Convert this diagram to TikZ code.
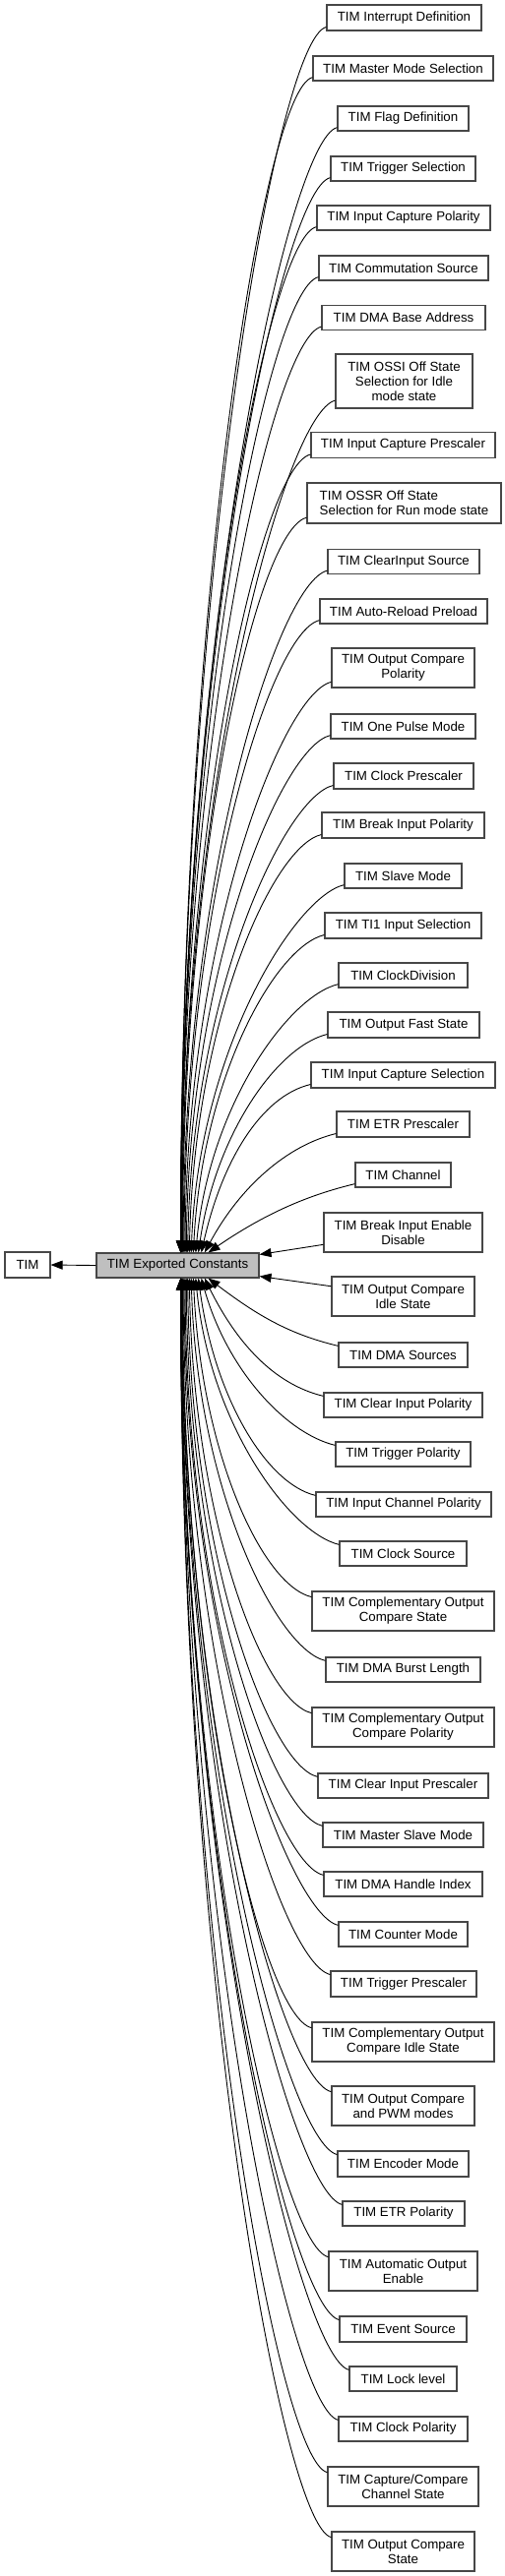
\documentclass[tikz,border=0pt]{standalone}
\usepackage{fontspec}
\setmainfont{Liberation Sans}
\usetikzlibrary{arrows.meta,calc}
\tikzset{
  box/.style={draw=black!72, line width=1.1pt, fill=white, inner sep=0pt, align=center,
    font=\fontsize{13.3}{15}\selectfont, text=black},
  edge/.style={draw=black, line width=0.9pt, -{Triangle[length=12pt,width=9pt]}},
}
\newcommand\upedge[2]{%
 \draw[edge] let \p1=($(#1.north west)!0.85!(#1.south west)$),
   \n2={86+28*((#2)/22)^3},
   \p2=($(ec.north west)+(\n2,0)$),
   \n1={0.6*exp(-(\y1-\y2)/150)} in
   (\p1) .. controls ({\x1-50},{\y1-12}) and ({\x2+\n1*(\x1-\x2)},{\y2+0.55*(\y1-\y2)}) .. (\p2);}
\newcommand\downedge[2]{%
 \draw[edge] let \p1=($(#1.north west)!0.15!(#1.south west)$),
   \n2={86+28*((#2)/22)^3},
   \p2=($(ec.south west)+(\n2,0)$),
   \n1={0.6*exp(-(\y2-\y1)/150)} in
   (\p1) .. controls ({\x1-50},{\y1+12}) and ({\x2+\n1*(\x1-\x2)},{\y2+0.55*(\y1-\y2)}) .. (\p2);}
\begin{document}
\begin{tikzpicture}[x=1pt,y=-1pt]
\useasboundingbox (0,0) rectangle (513,2619);
% main nodes
\node[box, minimum width=46, minimum height=26] (tim) at (28,1286) {TIM};
\node[box, fill=black!25, minimum width=165, minimum height=25] (ec) at (180.5,1286.5) {TIM Exported Constants};
% upper nodes
\node[box, minimum width=157, minimum height=26] (ind) at (410.5,18) {TIM Interrupt Definition};
\node[box, minimum width=183, minimum height=25] (mms) at (409.5,69.5) {TIM Master Mode Selection};
\node[box, minimum width=133, minimum height=25] (fd) at (409.5,120.5) {TIM Flag Definition};
\node[box, minimum width=147, minimum height=25] (ts) at (409.5,171.5) {TIM Trigger Selection};
\node[box, minimum width=176, minimum height=25] (icp) at (410,221.5) {TIM Input Capture Polarity};
\node[box, minimum width=172, minimum height=25] (cs) at (410,272.5) {TIM Commutation Source};
\node[box, minimum width=166, minimum height=25] (dba) at (410,323) {TIM DMA Base Address};
\node[box, minimum width=139, minimum height=55] (ossi) at (410.5,387.5) {TIM OSSI Off State\\Selection for Idle\\mode state};
\node[box, minimum width=187, minimum height=26] (icps) at (409.5,452.5) {TIM Input Capture Prescaler};
\node[box, align=left, minimum width=197, minimum height=41] (ossr) at (410.5,511.5) {TIM OSSR Off State\\ Selection for Run mode state};
\node[box, minimum width=154, minimum height=25] (cis) at (410,571) {TIM ClearInput Source};
\node[box, minimum width=170, minimum height=25] (arp) at (410,621.5) {TIM Auto-Reload Preload};
\node[box, minimum width=145, minimum height=40] (ocp) at (409.5,679) {TIM Output Compare\\Polarity};
\node[box, minimum width=147, minimum height=25] (opm) at (409.5,738.5) {TIM One Pulse Mode};
\node[box, minimum width=142, minimum height=26] (cps) at (410,789) {TIM Clock Prescaler};
\node[box, minimum width=165, minimum height=26] (bip) at (409.5,839) {TIM Break Input Polarity};
\node[box, minimum width=119, minimum height=25] (sm) at (409.5,890.5) {TIM Slave Mode};
\node[box, minimum width=159, minimum height=26] (ti1) at (409.5,941) {TIM TI1 Input Selection};
\node[box, minimum width=131, minimum height=25] (cd) at (409.5,991.5) {TIM ClockDivision};
\node[box, minimum width=154, minimum height=26] (ofs) at (410,1042) {TIM Output Fast State};
\node[box, minimum width=187, minimum height=26] (ics) at (409.5,1093) {TIM Input Capture Selection};
\node[box, minimum width=135, minimum height=26] (etrp) at (409.5,1143) {TIM ETR Prescaler};
\node[box, minimum width=97, minimum height=25] (ch) at (409.5,1194.5) {TIM Channel};
% middle nodes
\node[box, minimum width=161, minimum height=40] (bied) at (409.5,1253) {TIM Break Input Enable\\Disable};
\node[box, minimum width=145, minimum height=40] (ocis) at (409.5,1318) {TIM Output Compare\\Idle State};
% lower nodes
\node[box, minimum width=131, minimum height=25] (dmas) at (409.5,1377.5) {TIM DMA Sources};
\node[box, minimum width=161, minimum height=25] (cip) at (409.5,1428.5) {TIM Clear Input Polarity};
\node[box, minimum width=137, minimum height=25] (tp) at (409.5,1478.5) {TIM Trigger Polarity};
\node[box, minimum width=178, minimum height=25] (icpol) at (410,1529.5) {TIM Input Channel Polarity};
\node[box, minimum width=129, minimum height=25] (csrc) at (409.5,1579.5) {TIM Clock Source};
\node[box, minimum width=185, minimum height=40] (cocs) at (409.5,1638) {TIM Complementary Output\\Compare State};
\node[box, minimum width=157, minimum height=25] (dbl) at (409.5,1697.5) {TIM DMA Burst Length};
\node[box, minimum width=185, minimum height=40] (cocp) at (409.5,1756) {TIM Complementary Output\\Compare Polarity};
\node[box, minimum width=173, minimum height=25] (cipsc) at (409.5,1815.5) {TIM Clear Input Prescaler};
\node[box, minimum width=163, minimum height=25] (msm) at (409.5,1865.5) {TIM Master Slave Mode};
\node[box, minimum width=161, minimum height=25] (dhi) at (409.5,1915.5) {TIM DMA Handle Index};
\node[box, minimum width=131, minimum height=25] (cm) at (409.5,1966.5) {TIM Counter Mode};
\node[box, minimum width=148, minimum height=26] (tps) at (410,2017) {TIM Trigger Prescaler};
\node[box, minimum width=185, minimum height=40] (cocis) at (409.5,2076) {TIM Complementary Output\\Compare Idle State};
\node[box, minimum width=145, minimum height=40] (ocpwm) at (409.5,2141) {TIM Output Compare\\and PWM modes};
\node[box, minimum width=133, minimum height=26] (em) at (409.5,2200) {TIM Encoder Mode};
\node[box, minimum width=124, minimum height=25] (etrpol) at (410,2250.5) {TIM ETR Polarity};
\node[box, minimum width=151, minimum height=40] (aoe) at (409.5,2309) {TIM Automatic Output\\Enable};
\node[box, minimum width=129, minimum height=26] (es) at (409.5,2368) {TIM Event Source};
\node[box, minimum width=109, minimum height=25] (ll) at (409.5,2418.5) {TIM Lock level};
\node[box, minimum width=131, minimum height=25] (cpol) at (409.5,2469.5) {TIM Clock Polarity};
\node[box, minimum width=153, minimum height=40] (ccs) at (409.5,2528) {TIM Capture/Compare\\Channel State};
\node[box, minimum width=145, minimum height=40] (ocs) at (409.5,2594) {TIM Output Compare\\State};
% edges
\draw[edge] (ec.west) -- (tim.east);
\upedge{ind}{0}
\upedge{mms}{1}
\upedge{fd}{2}
\upedge{ts}{3}
\upedge{icp}{4}
\upedge{cs}{5}
\upedge{dba}{6}
\upedge{ossi}{7}
\upedge{icps}{8}
\upedge{ossr}{9}
\upedge{cis}{10}
\upedge{arp}{11}
\upedge{ocp}{12}
\upedge{opm}{13}
\upedge{cps}{14}
\upedge{bip}{15}
\upedge{sm}{16}
\upedge{ti1}{17}
\upedge{cd}{18}
\upedge{ofs}{19}
\upedge{ics}{20}
\upedge{etrp}{21}
\upedge{ch}{22}
\draw[edge] ($(bied.north west)!0.8!(bied.south west)$) -- ($(ec.north east)+(0,2)$);
\draw[edge] ($(ocis.north west)!0.25!(ocis.south west)$) -- ($(ec.south east)+(0,-2)$);
\downedge{dmas}{22}
\downedge{cip}{21}
\downedge{tp}{20}
\downedge{icpol}{19}
\downedge{csrc}{18}
\downedge{cocs}{17}
\downedge{dbl}{16}
\downedge{cocp}{15}
\downedge{cipsc}{14}
\downedge{msm}{13}
\downedge{dhi}{12}
\downedge{cm}{11}
\downedge{tps}{10}
\downedge{cocis}{9}
\downedge{ocpwm}{8}
\downedge{em}{7}
\downedge{etrpol}{6}
\downedge{aoe}{5}
\downedge{es}{4}
\downedge{ll}{3}
\downedge{cpol}{2}
\downedge{ccs}{1}
\downedge{ocs}{0}
\end{tikzpicture}
\end{document}
